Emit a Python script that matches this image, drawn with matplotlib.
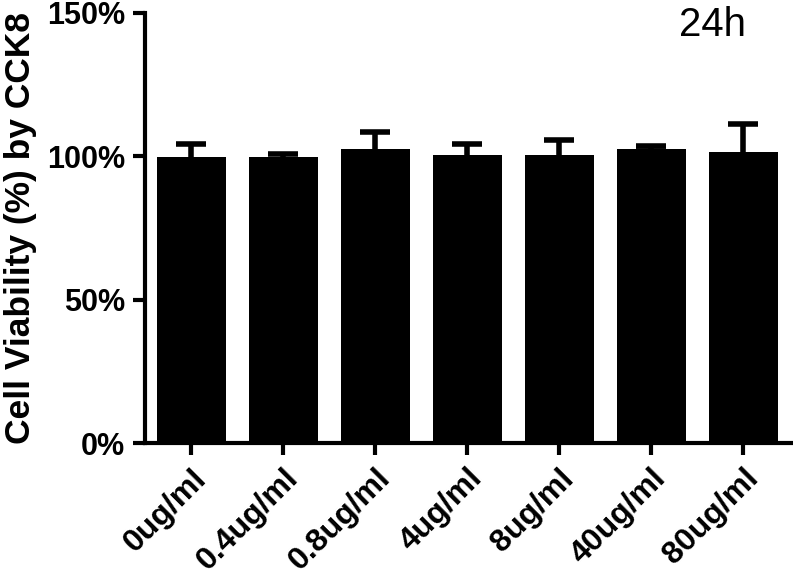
import matplotlib.pyplot as plt
import numpy as np

plt.rcParams['font.family'] = ['Liberation Sans', 'DejaVu Sans']

# data
doses = ['0ug/ml', '0.4ug/ml', '0.8ug/ml', '4ug/ml', '8ug/ml', '40ug/ml', '80ug/ml']
viability = [99.6, 99.6, 102.6, 100.6, 100.6, 102.6, 101.6]
sd = [4.7, 1.2, 5.9, 3.6, 5.1, 0.8, 9.6]
yticks = [0, 50, 100, 150]

fig = plt.figure(figsize=(7.93, 5.72), dpi=100)
ax = fig.add_axes([0.1829, 0.225, 0.8146, 0.7528])

x = np.arange(len(doses))
# symmetric error bar drawn under the bar, so only the upper half shows
ax.errorbar(x, viability, yerr=sd, fmt='none',
            ecolor='black', elinewidth=4, capsize=11, capthick=4, zorder=1)
ax.bar(x, viability, width=0.75, color='black', zorder=2)

ax.set_xlim(-0.5, 6.52)
ax.set_ylim(0, 150)
ax.set_yticks(yticks)
ax.set_yticklabels([f'{v}%' for v in yticks], fontsize=22, fontweight='bold')
ax.set_xticks(x)
ax.set_xticklabels(doses, rotation=45, ha='right', rotation_mode='anchor',
                   fontsize=23, fontweight='bold')

for s in ['top', 'right']:
    ax.spines[s].set_visible(False)
for s in ['left', 'bottom']:
    ax.spines[s].set_linewidth(3)
ax.tick_params(width=3, length=8.5)
ax.tick_params(axis='y', pad=6)
ax.tick_params(axis='x', pad=6)

ax.set_ylabel('Cell Viability (%) by CCK8', fontsize=25.5, fontweight='bold')
ax.yaxis.set_label_coords(-0.168, 0.5)
ax.text(0.878, 0.946, '24h', transform=ax.transAxes, fontsize=29,
        ha='center', va='baseline')

fig.savefig('out.png', dpi=100)
